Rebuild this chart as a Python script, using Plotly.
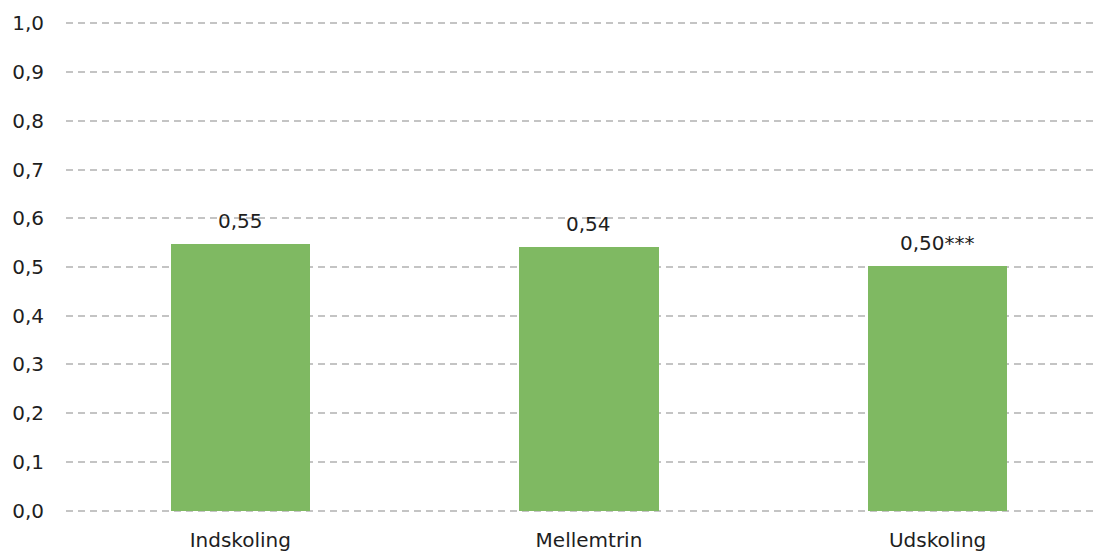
import plotly.graph_objects as go

categories = ["Indskoling", "Mellemtrin", "Udskoling"]
values = [0.548, 0.541, 0.503]
labels = ["0,55", "0,54", "0,50***"]
y_ticks = [0, 0.1, 0.2, 0.3, 0.4, 0.5, 0.6, 0.7, 0.8, 0.9, 1.0]

FONT = "Verdana, DejaVu Sans, sans-serif"

fig = go.Figure()
fig.add_trace(go.Bar(
    x=list(range(len(categories))), y=values,
    width=0.4, marker=dict(color="#7FB962", line=dict(width=0)),
    hoverinfo="skip",
))

for i, (v, t) in enumerate(zip(values, labels)):
    fig.add_annotation(x=i, y=v, text=t, showarrow=False,
                       yanchor="bottom", yshift=9,
                       font=dict(family=FONT, size=20, color="#1E1E1E"))

# page body adds an 8px offset, margins compensate for it
fig.update_layout(
    width=1101, height=551,
    margin=dict(l=58, r=11, t=13, b=46),
    plot_bgcolor="white", paper_bgcolor="white",
    separators=",.",
    showlegend=False,
    bargap=0,
    font=dict(family=FONT, size=20, color="#1E1E1E"),
)
fig.update_xaxes(
    range=[-0.5, 2.46], tickmode="array",
    tickvals=list(range(len(categories))), ticktext=categories,
    showgrid=False, zeroline=False, showline=False, ticks="",
    ticklabelstandoff=13, automargin=False,
    tickfont=dict(family=FONT, size=20, color="#1E1E1E"),
)
fig.update_yaxes(
    range=[-0.005, 1.005], tickvals=y_ticks, tickformat=".1f",
    showgrid=True, gridcolor="#C4C4C4", gridwidth=1.5, griddash="7px,5px",
    zeroline=False, showline=False, ticks="",
    ticklabelstandoff=21, automargin=False,
    tickfont=dict(family=FONT, size=20, color="#1E1E1E"),
)

fig.write_html("out.html")
